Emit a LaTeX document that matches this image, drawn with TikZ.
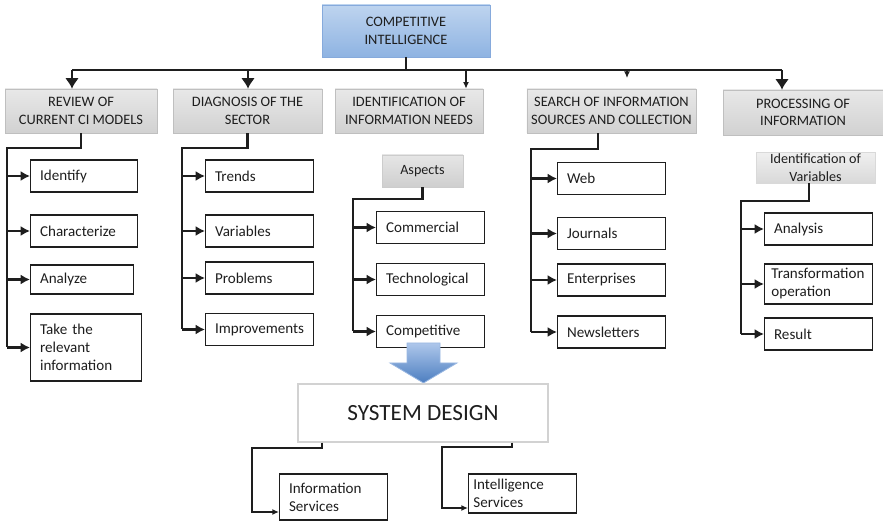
\documentclass[tikz,border=0pt]{standalone}
\usepackage{fontspec}
\setmainfont{Carlito}
\usetikzlibrary{arrows.meta}

\definecolor{citop}{HTML}{BED4EF}
\definecolor{cibot}{HTML}{8EB3E2}
\definecolor{ciedge}{HTML}{86AADC}
\definecolor{arrtop}{HTML}{AEC7EB}
\definecolor{arrbot}{HTML}{4C7EC0}
\definecolor{ink}{HTML}{1E1E1E}

\tikzset{
  cibox/.style={draw=ciedge, top color=citop, bottom color=cibot, align=center,
    text=ink, font=\fontsize{10.8}{13.5}\selectfont},
  headbox/.style={draw=gray!50, top color=gray!18, bottom color=gray!36, align=center,
    text=ink, minimum height=33pt, font=\fontsize{10.8}{13}\selectfont},
  tagbox/.style={draw=gray!40, top color=gray!20, bottom color=gray!38, align=center,
    text=ink, font=\fontsize{10.6}{13}\selectfont},
  itembox/.style={draw=ink, line width=1.1pt, anchor=west, align=left, inner xsep=7pt,
    minimum height=24pt, text width=#1, text=ink, font=\fontsize{11.3}{13.5}\selectfont},
  itembox/.default=67pt,
  bus/.style={draw=ink, line width=1.5pt},
  conn/.style={draw=ink, line width=1.9pt},
  thinconn/.style={draw=ink, line width=1.1pt},
  bigtip/.style={-{Latex[length=8pt,width=10.5pt]}},
  midtip/.style={-{Latex[length=7pt,width=7.5pt]}},
  smalltip/.style={-{Latex[length=5pt,width=4.5pt]}}
}

\begin{document}
\begin{tikzpicture}[x=0.75pt,y=-0.75pt]
	\useasboundingbox (0,0) rectangle (883,523);

	\node[cibox, minimum width=126pt, minimum height=39pt] (ci) at (406,31) {COMPETITIVE\\INTELLIGENCE};

	\node[headbox, minimum width=114pt] (review) at (81,111) {REVIEW OF\\CURRENT CI MODELS};
	\node[headbox, minimum width=111.75pt] (diagnosis) at (247.5,111) {DIAGNOSIS OF THE\\SECTOR};
	\node[headbox, minimum width=111pt] (needs) at (409,111) {IDENTIFICATION OF\\INFORMATION NEEDS};
	\node[headbox, minimum width=126.75pt] (search) at (611.5,111) {SEARCH OF INFORMATION\\SOURCES AND COLLECTION};
	\node[headbox, minimum width=120pt, minimum height=33.75pt] (processing) at (803,112.5) {PROCESSING OF\\INFORMATION};

	% bus under the main box
	\coordinate (b0) at (406,70);
	\coordinate (b1) at (72,70);
	\coordinate (b2) at (248,70);
	\coordinate (b3) at (466,70);
	\coordinate (b4) at (627,70);
	\coordinate (b5) at (782,70);
	\draw[bus] (ci.south) -- (b0);
	\draw[bus] (b1) -- (b5);
	\draw[bus,bigtip] (b1) -- (b1 |- review.north);
	\draw[bus,bigtip] (b2) -- (b2 |- diagnosis.north);
	\draw[thinconn,smalltip] (b3) -- (b3 |- needs.north);
	\draw[thinconn,smalltip,shorten >=8pt] (b4) -- (b4 |- search.north);
	\draw[bus,bigtip] (b5) -- (b5 |- processing.north);

	% review of CI models
	\node[itembox=66pt] (identify) at (30,176) {Identify};
	\node[itembox=66pt] (characterize) at (30,231) {Characterize};
	\node[itembox=63pt, minimum height=22pt] (analyze) at (30,279.5) {Analyze};
	\node[itembox=69pt, minimum height=50pt] (take) at (30,347.5) {Take the\\relevant\\information};
	\coordinate (s1) at (7,148);
	\draw[conn] (review.south) |- (s1) -- (s1 |- take.west);
	\foreach \n in {identify,characterize,analyze,take}
		\draw[conn,midtip] (s1 |- \n.west) -- (\n.west);

	% diagnosis
	\node[itembox] (trends) at (205,176) {Trends};
	\node[itembox] (variables) at (205,231) {Variables};
	\node[itembox] (problems) at (205,278) {Problems};
	\node[itembox] (improvements) at (205,329.5) {Improvements};
	\coordinate (s2) at (182,148);
	\draw[conn] (diagnosis.south) |- (s2) -- (s2 |- improvements.west);
	\foreach \n in {trends,variables,problems,improvements}
		\draw[conn,midtip] (s2 |- \n.west) -- (\n.west);

	% information needs
	\node[tagbox, minimum width=60.75pt, minimum height=24pt] (aspects) at (422.5,171) {Aspects};
	\node[itembox] (commercial) at (376,227.5) {Commercial};
	\node[itembox] (technological) at (376,279.5) {Technological};
	\node[itembox] (competitive) at (376,331.5) {Competitive};
	\coordinate (s3) at (353,199);
	\draw[conn] (aspects.south) |- (s3) -- (s3 |- competitive.west);
	\foreach \n in {commercial,technological,competitive}
		\draw[conn,midtip] (s3 |- \n.west) -- (\n.west);

	% sources
	\node[itembox] (web) at (557,178.5) {Web};
	\node[itembox] (journals) at (557,233.5) {Journals};
	\node[itembox] (enterprises) at (557,280) {Enterprises};
	\node[itembox] (newsletters) at (557,332) {Newsletters};
	\coordinate (s4) at (531,149);
	\draw[conn] ([xshift=-10pt]search.south) |- (s4) -- (s4 |- newsletters.west);
	\foreach \n in {web,journals,enterprises,newsletters}
		\draw[conn,midtip] (s4 |- \n.west) -- (\n.west);

	% processing
	\node[tagbox, draw=gray!30, top color=gray!12, bottom color=gray!30, minimum width=89pt, minimum height=23pt, inner sep=1pt] (idvars) at (815.5,167.5) {Identification of\\Variables};
	\node[itembox] (analysis) at (764,229) {Analysis};
	\node[itembox=71pt, inner xsep=5pt, minimum height=28.5pt] (transform) at (764,284) {Transformation\\operation};
	\node[itembox] (result) at (764,334) {Result};
	\coordinate (s5) at (741,201);
	\draw[conn] ([xshift=-5pt]idvars.south) |- (s5) -- (s5 |- result.west);
	\foreach \n in {analysis,transform,result}
		\draw[conn,midtip] (s5 |- \n.west) -- (\n.west);

	% big arrow and design box
	\shadedraw[top color=arrtop, bottom color=arrbot, draw=arrtop!80!arrbot, line width=0.6pt]
		(407,343) -- (440,343) -- (440,363) -- (457,363) -- (423.5,383) -- (390,363) -- (407,363) -- cycle;
	\node[draw=gray!35, line width=0.8pt, fill=white, minimum width=187.5pt, minimum height=43.5pt,
		text=ink, font=\fontsize{17.4}{20}\selectfont] (design) at (423,413) {SYSTEM DESIGN};

	\node[itembox, minimum height=34.5pt] (infoserv) at (279,497) {Information\\Services};
	\node[itembox=74pt, inner xsep=3.5pt, minimum height=29pt] (intelserv) at (468,493.5) {Intelligence\\Services};
	\coordinate (t1) at (322,448);
	\coordinate (u1) at (252,512);
	\coordinate (t2) at (512,447);
	\coordinate (u2) at (442,508);
	\draw[thinconn,smalltip] (t1 |- design.south) -- (t1) -| (u1) -- (u1 -| infoserv.west);
	\draw[thinconn,smalltip] (t2 |- design.south) -- (t2) -| (u2) -- (u2 -| intelserv.west);
\end{tikzpicture}
\end{document}
